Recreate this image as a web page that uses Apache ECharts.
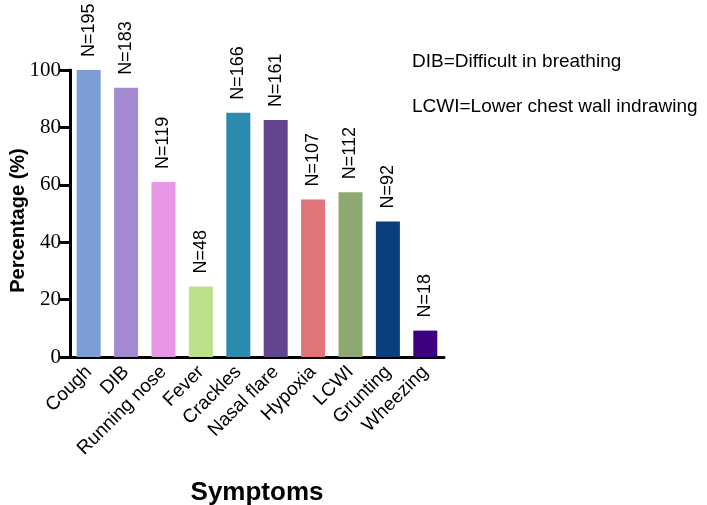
<!DOCTYPE html>
<html lang="en">
<head>
    <meta charset="UTF-8">
    <title>Symptoms</title>
    <script src="https://cdn.jsdelivr.net/npm/echarts@6/dist/echarts.min.js"></script>
</head>
<body style="margin:0">
    <div id="main" style="width: 707px; height: 505px"></div>
    <script>
        var symptoms = ['Cough', 'DIB', 'Running nose', 'Fever', 'Crackles', 'Nasal flare', 'Hypoxia', 'LCWI', 'Grunting', 'Wheezing'];
        var counts = [195, 183, 119, 48, 166, 161, 107, 112, 92, 18];
        var percents = [100, 93.8, 61.0, 24.6, 85.1, 82.6, 54.9, 57.4, 47.2, 9.2];
        var colors = ['#7b9fd4', '#a38ad0', '#e896e6', '#bde08a', '#2b8aae', '#62458f', '#e07479', '#8da870', '#0b3e7c', '#3f0080'];
        var yTicks = [0, 20, 40, 60, 80, 100];

        var mychart = echarts.init(document.getElementById('main'));

        var option = {
            animation: false,
            grid: { left: 70, right: 263, top: 70, bottom: 148, outerBoundsMode: 'none', containLabel: false },
            xAxis: {
                type: 'category',
                data: symptoms,
                name: 'Symptoms',
                nameLocation: 'middle',
                nameGap: 123,
                nameTextStyle: { fontFamily: 'Liberation Sans', fontWeight: 'bold', fontSize: 26, color: '#000' },
                axisLine: { lineStyle: { color: '#000', width: 3 } },
                axisTick: { alignWithLabel: true, length: 9, lineStyle: { color: '#000', width: 3 } },
                axisLabel: { rotate: 45, fontFamily: 'Liberation Sans', fontSize: 19, color: '#000', margin: 12 }
            },
            yAxis: {
                type: 'value',
                min: 0,
                max: 100,
                interval: 20,
                name: 'Percentage (%)',
                nameLocation: 'middle',
                nameGap: 42,
                nameMoveOverlap: false,
                nameTextStyle: { fontFamily: 'Liberation Sans', fontWeight: 'bold', fontSize: 20, color: '#000', padding: [0, 14, 0, 0] },
                splitLine: { show: false },
                axisLine: { show: true, lineStyle: { color: '#000', width: 3 } },
                axisTick: { show: true, length: 10, lineStyle: { color: '#000', width: 3 } },
                axisLabel: {
                    fontFamily: 'Liberation Serif', fontSize: 21, color: '#000', margin: 9,
                    formatter: function (v) { return yTicks.indexOf(v) >= 0 ? String(v) : ''; }
                }
            },
            graphic: [
                { type: 'text', left: 412, top: 52, style: { text: 'DIB=Difficult in breathing', fontFamily: 'Liberation Sans', fontSize: 19, fill: '#000' } },
                { type: 'text', left: 412, top: 97, style: { text: 'LCWI=Lower chest wall indrawing', fontFamily: 'Liberation Sans', fontSize: 19, fill: '#000' } }
            ],
            series: [{
                type: 'bar',
                barWidth: 24,
                data: percents.map(function (v, i) {
                    return { value: v, itemStyle: { color: colors[i] } };
                }),
                label: {
                    show: true,
                    position: 'top',
                    rotate: 90,
                    align: 'left',
                    verticalAlign: 'middle',
                    distance: 13,
                    fontFamily: 'Liberation Sans',
                    fontSize: 18,
                    color: '#000',
                    formatter: function (p) { return 'N=' + counts[p.dataIndex]; }
                }
            }]
        };

        mychart.setOption(option);
    </script>
</body>
</html>
